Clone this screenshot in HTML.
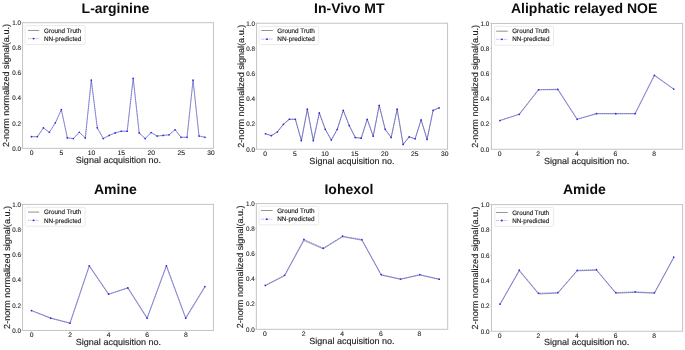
<!DOCTYPE html>
<html><head><meta charset="utf-8"><title>charts</title>
<style>
html,body{margin:0;padding:0;background:#fff;}
body{width:685px;height:350px;overflow:hidden;font-family:"Liberation Sans",sans-serif;}
svg{display:block;filter:blur(0.3px);text-rendering:geometricPrecision;}
</style></head>
<body>
<svg width="685" height="350" viewBox="0 0 685 350">
<rect width="685" height="350" fill="#fff"/>
<defs><clipPath id="c1"><rect x="0" y="0" width="214.7" height="175"/></clipPath></defs>
<g clip-path="url(#c1)">
<text x="115.45" y="12.7" text-anchor="middle" font-family="Liberation Sans, sans-serif" font-weight="bold" font-size="14" fill="#0c0c0c">L-arginine</text>
<rect x="22.55" y="22.70" width="190.95" height="125.65" fill="none" stroke="#c4c4c4" stroke-width="1"/>
<line x1="20.95" x2="22.55" y1="148.35" y2="148.35" stroke="#c4c4c4" stroke-width="0.6"/>
<text transform="translate(20.95,150.65) scale(0.9480,1)" text-anchor="end" font-family="Liberation Sans, sans-serif" font-size="6.6" fill="#1e1e1e" stroke="#1e1e1e" stroke-width="0.12">0.0</text>
<line x1="20.95" x2="22.55" y1="123.22" y2="123.22" stroke="#c4c4c4" stroke-width="0.6"/>
<text transform="translate(20.95,125.52) scale(0.9480,1)" text-anchor="end" font-family="Liberation Sans, sans-serif" font-size="6.6" fill="#1e1e1e" stroke="#1e1e1e" stroke-width="0.12">0.2</text>
<line x1="20.95" x2="22.55" y1="98.09" y2="98.09" stroke="#c4c4c4" stroke-width="0.6"/>
<text transform="translate(20.95,100.39) scale(0.9480,1)" text-anchor="end" font-family="Liberation Sans, sans-serif" font-size="6.6" fill="#1e1e1e" stroke="#1e1e1e" stroke-width="0.12">0.4</text>
<line x1="20.95" x2="22.55" y1="72.96" y2="72.96" stroke="#c4c4c4" stroke-width="0.6"/>
<text transform="translate(20.95,75.26) scale(0.9480,1)" text-anchor="end" font-family="Liberation Sans, sans-serif" font-size="6.6" fill="#1e1e1e" stroke="#1e1e1e" stroke-width="0.12">0.6</text>
<line x1="20.95" x2="22.55" y1="47.83" y2="47.83" stroke="#c4c4c4" stroke-width="0.6"/>
<text transform="translate(20.95,50.13) scale(0.9480,1)" text-anchor="end" font-family="Liberation Sans, sans-serif" font-size="6.6" fill="#1e1e1e" stroke="#1e1e1e" stroke-width="0.12">0.8</text>
<line x1="20.95" x2="22.55" y1="22.70" y2="22.70" stroke="#c4c4c4" stroke-width="0.6"/>
<text transform="translate(20.95,25.00) scale(0.9480,1)" text-anchor="end" font-family="Liberation Sans, sans-serif" font-size="6.6" fill="#1e1e1e" stroke="#1e1e1e" stroke-width="0.12">1.0</text>
<line x1="31.23" x2="31.23" y1="148.35" y2="149.85" stroke="#c4c4c4" stroke-width="0.6"/>
<text transform="translate(31.53,155.05) scale(1.0215,1)" text-anchor="middle" font-family="Liberation Sans, sans-serif" font-size="6.6" fill="#1e1e1e" stroke="#1e1e1e" stroke-width="0.12">0</text>
<line x1="61.16" x2="61.16" y1="148.35" y2="149.85" stroke="#c4c4c4" stroke-width="0.6"/>
<text transform="translate(61.46,155.05) scale(1.0215,1)" text-anchor="middle" font-family="Liberation Sans, sans-serif" font-size="6.6" fill="#1e1e1e" stroke="#1e1e1e" stroke-width="0.12">5</text>
<line x1="91.09" x2="91.09" y1="148.35" y2="149.85" stroke="#c4c4c4" stroke-width="0.6"/>
<text transform="translate(91.39,155.05) scale(1.0215,1)" text-anchor="middle" font-family="Liberation Sans, sans-serif" font-size="6.6" fill="#1e1e1e" stroke="#1e1e1e" stroke-width="0.12">10</text>
<line x1="121.02" x2="121.02" y1="148.35" y2="149.85" stroke="#c4c4c4" stroke-width="0.6"/>
<text transform="translate(121.32,155.05) scale(1.0215,1)" text-anchor="middle" font-family="Liberation Sans, sans-serif" font-size="6.6" fill="#1e1e1e" stroke="#1e1e1e" stroke-width="0.12">15</text>
<line x1="150.95" x2="150.95" y1="148.35" y2="149.85" stroke="#c4c4c4" stroke-width="0.6"/>
<text transform="translate(151.25,155.05) scale(1.0215,1)" text-anchor="middle" font-family="Liberation Sans, sans-serif" font-size="6.6" fill="#1e1e1e" stroke="#1e1e1e" stroke-width="0.12">20</text>
<line x1="180.88" x2="180.88" y1="148.35" y2="149.85" stroke="#c4c4c4" stroke-width="0.6"/>
<text transform="translate(181.18,155.05) scale(1.0215,1)" text-anchor="middle" font-family="Liberation Sans, sans-serif" font-size="6.6" fill="#1e1e1e" stroke="#1e1e1e" stroke-width="0.12">25</text>
<line x1="210.81" x2="210.81" y1="148.35" y2="149.85" stroke="#c4c4c4" stroke-width="0.6"/>
<text transform="translate(211.11,155.05) scale(1.0215,1)" text-anchor="middle" font-family="Liberation Sans, sans-serif" font-size="6.6" fill="#1e1e1e" stroke="#1e1e1e" stroke-width="0.12">30</text>
<text transform="translate(118.43,162.85) scale(1.0244,1)" text-anchor="middle" font-family="Liberation Sans, sans-serif" font-size="8.8" fill="#1e1e1e" stroke="#1e1e1e" stroke-width="0.15">Signal acquisition no.</text>
<text transform="translate(9.35,85.52) rotate(-90) scale(1.0306,1)" text-anchor="middle" font-family="Liberation Sans, sans-serif" font-size="8.8" fill="#1e1e1e" stroke="#1e1e1e" stroke-width="0.15">2-norm normalized signal(a.u.)</text>
<polyline points="31.43,136.66 37.42,136.66 43.40,127.87 49.39,132.27 55.37,122.84 61.36,109.65 67.34,137.92 73.33,138.55 79.32,132.27 85.30,137.92 91.29,80.12 97.27,127.87 103.26,138.55 109.25,135.41 115.23,132.89 121.22,131.26 127.20,131.26 133.19,78.24 139.18,132.89 145.16,138.55 151.15,132.52 157.13,136.03 163.12,135.41 169.11,134.78 175.09,129.75 181.08,137.29 187.06,137.29 193.05,80.12 199.03,136.03 205.02,137.29" fill="none" stroke="#3c3c48" stroke-width="0.65" stroke-linejoin="round" opacity="0.5"/>
<polyline points="31.43,136.66 37.42,136.66 43.40,127.87 49.39,132.27 55.37,122.84 61.36,109.65 67.34,137.92 73.33,138.55 79.32,132.27 85.30,137.92 91.29,80.12 97.27,127.87 103.26,138.55 109.25,135.41 115.23,132.89 121.22,131.26 127.20,131.26 133.19,78.24 139.18,132.89 145.16,138.55 151.15,132.52 157.13,136.03 163.12,135.41 169.11,134.78 175.09,129.75 181.08,137.29 187.06,137.29 193.05,80.12 199.03,136.03 205.02,137.29" fill="none" stroke="#4a4af0" stroke-width="0.66" stroke-linejoin="round" stroke-dasharray="1.5 0.45" opacity="0.92"/>
<path d="M31.43,136.66h0M37.42,136.66h0M43.40,127.87h0M49.39,132.27h0M55.37,122.84h0M61.36,109.65h0M67.34,137.92h0M73.33,138.55h0M79.32,132.27h0M85.30,137.92h0M91.29,80.12h0M97.27,127.87h0M103.26,138.55h0M109.25,135.41h0M115.23,132.89h0M121.22,131.26h0M127.20,131.26h0M133.19,78.24h0M139.18,132.89h0M145.16,138.55h0M151.15,132.52h0M157.13,136.03h0M163.12,135.41h0M169.11,134.78h0M175.09,129.75h0M181.08,137.29h0M187.06,137.29h0M193.05,80.12h0M199.03,136.03h0M205.02,137.29h0" stroke="#2a2aea" stroke-width="1.7" stroke-linecap="round" fill="none"/>
<rect x="25.10" y="25.60" width="60" height="18.9" rx="1.2" fill="#fff" stroke="#e2e2e2" stroke-width="0.7"/>
<line x1="28.00" x2="39.20" y1="30.45" y2="30.45" stroke="#666" stroke-width="0.7"/>
<line x1="28.00" x2="39.20" y1="38.60" y2="38.60" stroke="#7a7aff" stroke-width="0.6" stroke-dasharray="1.2 0.7"/>
<circle cx="33.60" cy="38.60" r="0.9" fill="#2222e6"/>
<text transform="translate(44.00,32.50) scale(0.9713,1)" text-anchor="start" font-family="Liberation Sans, sans-serif" font-size="6.5" fill="#1e1e1e" stroke="#1e1e1e" stroke-width="0.15">Ground Truth</text>
<text transform="translate(44.00,40.70) scale(0.9713,1)" text-anchor="start" font-family="Liberation Sans, sans-serif" font-size="6.5" fill="#1e1e1e" stroke="#1e1e1e" stroke-width="0.15">NN-predicted</text>
</g>
<g>
<text x="349.3" y="12.8" text-anchor="middle" font-family="Liberation Sans, sans-serif" font-weight="bold" font-size="14" fill="#0c0c0c">In-Vivo MT</text>
<rect x="256.55" y="23.25" width="191.00" height="126.00" fill="none" stroke="#c4c4c4" stroke-width="1"/>
<line x1="254.95" x2="256.55" y1="149.25" y2="149.25" stroke="#c4c4c4" stroke-width="0.6"/>
<text transform="translate(254.95,151.55) scale(0.9480,1)" text-anchor="end" font-family="Liberation Sans, sans-serif" font-size="6.6" fill="#1e1e1e" stroke="#1e1e1e" stroke-width="0.12">0.0</text>
<line x1="254.95" x2="256.55" y1="124.05" y2="124.05" stroke="#c4c4c4" stroke-width="0.6"/>
<text transform="translate(254.95,126.35) scale(0.9480,1)" text-anchor="end" font-family="Liberation Sans, sans-serif" font-size="6.6" fill="#1e1e1e" stroke="#1e1e1e" stroke-width="0.12">0.2</text>
<line x1="254.95" x2="256.55" y1="98.85" y2="98.85" stroke="#c4c4c4" stroke-width="0.6"/>
<text transform="translate(254.95,101.15) scale(0.9480,1)" text-anchor="end" font-family="Liberation Sans, sans-serif" font-size="6.6" fill="#1e1e1e" stroke="#1e1e1e" stroke-width="0.12">0.4</text>
<line x1="254.95" x2="256.55" y1="73.65" y2="73.65" stroke="#c4c4c4" stroke-width="0.6"/>
<text transform="translate(254.95,75.95) scale(0.9480,1)" text-anchor="end" font-family="Liberation Sans, sans-serif" font-size="6.6" fill="#1e1e1e" stroke="#1e1e1e" stroke-width="0.12">0.6</text>
<line x1="254.95" x2="256.55" y1="48.45" y2="48.45" stroke="#c4c4c4" stroke-width="0.6"/>
<text transform="translate(254.95,50.75) scale(0.9480,1)" text-anchor="end" font-family="Liberation Sans, sans-serif" font-size="6.6" fill="#1e1e1e" stroke="#1e1e1e" stroke-width="0.12">0.8</text>
<line x1="254.95" x2="256.55" y1="23.25" y2="23.25" stroke="#c4c4c4" stroke-width="0.6"/>
<text transform="translate(254.95,25.55) scale(0.9480,1)" text-anchor="end" font-family="Liberation Sans, sans-serif" font-size="6.6" fill="#1e1e1e" stroke="#1e1e1e" stroke-width="0.12">1.0</text>
<line x1="265.23" x2="265.23" y1="149.25" y2="150.75" stroke="#c4c4c4" stroke-width="0.6"/>
<text transform="translate(265.03,155.95) scale(1.0215,1)" text-anchor="middle" font-family="Liberation Sans, sans-serif" font-size="6.6" fill="#1e1e1e" stroke="#1e1e1e" stroke-width="0.12">0</text>
<line x1="295.17" x2="295.17" y1="149.25" y2="150.75" stroke="#c4c4c4" stroke-width="0.6"/>
<text transform="translate(294.97,155.95) scale(1.0215,1)" text-anchor="middle" font-family="Liberation Sans, sans-serif" font-size="6.6" fill="#1e1e1e" stroke="#1e1e1e" stroke-width="0.12">5</text>
<line x1="325.11" x2="325.11" y1="149.25" y2="150.75" stroke="#c4c4c4" stroke-width="0.6"/>
<text transform="translate(324.91,155.95) scale(1.0215,1)" text-anchor="middle" font-family="Liberation Sans, sans-serif" font-size="6.6" fill="#1e1e1e" stroke="#1e1e1e" stroke-width="0.12">10</text>
<line x1="355.04" x2="355.04" y1="149.25" y2="150.75" stroke="#c4c4c4" stroke-width="0.6"/>
<text transform="translate(354.84,155.95) scale(1.0215,1)" text-anchor="middle" font-family="Liberation Sans, sans-serif" font-size="6.6" fill="#1e1e1e" stroke="#1e1e1e" stroke-width="0.12">15</text>
<line x1="384.98" x2="384.98" y1="149.25" y2="150.75" stroke="#c4c4c4" stroke-width="0.6"/>
<text transform="translate(384.78,155.95) scale(1.0215,1)" text-anchor="middle" font-family="Liberation Sans, sans-serif" font-size="6.6" fill="#1e1e1e" stroke="#1e1e1e" stroke-width="0.12">20</text>
<line x1="414.92" x2="414.92" y1="149.25" y2="150.75" stroke="#c4c4c4" stroke-width="0.6"/>
<text transform="translate(414.72,155.95) scale(1.0215,1)" text-anchor="middle" font-family="Liberation Sans, sans-serif" font-size="6.6" fill="#1e1e1e" stroke="#1e1e1e" stroke-width="0.12">25</text>
<line x1="444.86" x2="444.86" y1="149.25" y2="150.75" stroke="#c4c4c4" stroke-width="0.6"/>
<text transform="translate(444.66,155.95) scale(1.0215,1)" text-anchor="middle" font-family="Liberation Sans, sans-serif" font-size="6.6" fill="#1e1e1e" stroke="#1e1e1e" stroke-width="0.12">30</text>
<text transform="translate(351.95,163.75) scale(1.0244,1)" text-anchor="middle" font-family="Liberation Sans, sans-serif" font-size="8.8" fill="#1e1e1e" stroke="#1e1e1e" stroke-width="0.15">Signal acquisition no.</text>
<text transform="translate(244.05,86.25) rotate(-90) scale(1.0306,1)" text-anchor="middle" font-family="Liberation Sans, sans-serif" font-size="8.8" fill="#1e1e1e" stroke="#1e1e1e" stroke-width="0.15">2-norm normalized signal(a.u.)</text>
<polyline points="265.43,133.75 271.42,135.64 277.41,131.86 283.39,124.30 289.38,119.26 295.37,119.26 301.36,140.68 307.34,109.18 313.33,140.68 319.32,112.96 325.31,129.34 331.29,140.05 337.28,129.34 343.27,110.44 349.26,125.56 355.24,137.53 361.23,138.16 367.22,119.26 373.21,136.27 379.19,105.40 385.18,129.34 391.17,137.53 397.16,109.18 403.14,144.46 409.13,136.90 415.12,138.79 421.11,119.89 427.09,139.42 433.08,110.44 439.07,107.92" fill="none" stroke="#3c3c48" stroke-width="0.65" stroke-linejoin="round" opacity="0.75"/>
<polyline points="265.43,133.75 271.42,135.64 277.41,131.86 283.39,124.30 289.38,119.26 295.37,119.26 301.36,140.68 307.34,109.18 313.33,140.68 319.32,112.96 325.31,129.34 331.29,140.05 337.28,129.34 343.27,110.44 349.26,125.56 355.24,137.53 361.23,138.16 367.22,119.26 373.21,136.27 379.19,105.40 385.18,129.34 391.17,137.53 397.16,109.18 403.14,144.46 409.13,136.90 415.12,138.79 421.11,119.89 427.09,139.42 433.08,110.44 439.07,107.92" fill="none" stroke="#4a4af0" stroke-width="0.66" stroke-linejoin="round" stroke-dasharray="1.5 0.45" opacity="0.92"/>
<path d="M265.43,133.75h0M271.42,135.64h0M277.41,131.86h0M283.39,124.30h0M289.38,119.26h0M295.37,119.26h0M301.36,140.68h0M307.34,109.18h0M313.33,140.68h0M319.32,112.96h0M325.31,129.34h0M331.29,140.05h0M337.28,129.34h0M343.27,110.44h0M349.26,125.56h0M355.24,137.53h0M361.23,138.16h0M367.22,119.26h0M373.21,136.27h0M379.19,105.40h0M385.18,129.34h0M391.17,137.53h0M397.16,109.18h0M403.14,144.46h0M409.13,136.90h0M415.12,138.79h0M421.11,119.89h0M427.09,139.42h0M433.08,110.44h0M439.07,107.92h0" stroke="#2a2aea" stroke-width="1.7" stroke-linecap="round" fill="none"/>
<rect x="259.15" y="26.45" width="59.5" height="18.1" rx="1.2" fill="#fff" stroke="#e2e2e2" stroke-width="0.7"/>
<line x1="261.15" x2="272.85" y1="30.50" y2="30.50" stroke="#666" stroke-width="0.7"/>
<line x1="261.15" x2="272.85" y1="39.15" y2="39.15" stroke="#7a7aff" stroke-width="0.6" stroke-dasharray="1.2 0.7"/>
<circle cx="267.00" cy="39.15" r="0.9" fill="#2222e6"/>
<text transform="translate(277.35,32.85) scale(0.9791,1)" text-anchor="start" font-family="Liberation Sans, sans-serif" font-size="6.5" fill="#1e1e1e" stroke="#1e1e1e" stroke-width="0.15">Ground Truth</text>
<text transform="translate(277.35,41.25) scale(0.9791,1)" text-anchor="start" font-family="Liberation Sans, sans-serif" font-size="6.5" fill="#1e1e1e" stroke="#1e1e1e" stroke-width="0.15">NN-predicted</text>
</g>
<g>
<text x="584.1" y="12.7" text-anchor="middle" font-family="Liberation Sans, sans-serif" font-weight="bold" font-size="14" fill="#0c0c0c">Aliphatic relayed NOE</text>
<rect x="491.40" y="23.45" width="191.20" height="125.80" fill="none" stroke="#c4c4c4" stroke-width="1"/>
<line x1="489.80" x2="491.40" y1="149.25" y2="149.25" stroke="#c4c4c4" stroke-width="0.6"/>
<text transform="translate(489.20,151.55) scale(0.9480,1)" text-anchor="end" font-family="Liberation Sans, sans-serif" font-size="6.6" fill="#1e1e1e" stroke="#1e1e1e" stroke-width="0.12">0.0</text>
<line x1="489.80" x2="491.40" y1="124.09" y2="124.09" stroke="#c4c4c4" stroke-width="0.6"/>
<text transform="translate(489.20,126.39) scale(0.9480,1)" text-anchor="end" font-family="Liberation Sans, sans-serif" font-size="6.6" fill="#1e1e1e" stroke="#1e1e1e" stroke-width="0.12">0.2</text>
<line x1="489.80" x2="491.40" y1="98.93" y2="98.93" stroke="#c4c4c4" stroke-width="0.6"/>
<text transform="translate(489.20,101.23) scale(0.9480,1)" text-anchor="end" font-family="Liberation Sans, sans-serif" font-size="6.6" fill="#1e1e1e" stroke="#1e1e1e" stroke-width="0.12">0.4</text>
<line x1="489.80" x2="491.40" y1="73.77" y2="73.77" stroke="#c4c4c4" stroke-width="0.6"/>
<text transform="translate(489.20,76.07) scale(0.9480,1)" text-anchor="end" font-family="Liberation Sans, sans-serif" font-size="6.6" fill="#1e1e1e" stroke="#1e1e1e" stroke-width="0.12">0.6</text>
<line x1="489.80" x2="491.40" y1="48.61" y2="48.61" stroke="#c4c4c4" stroke-width="0.6"/>
<text transform="translate(489.20,50.91) scale(0.9480,1)" text-anchor="end" font-family="Liberation Sans, sans-serif" font-size="6.6" fill="#1e1e1e" stroke="#1e1e1e" stroke-width="0.12">0.8</text>
<line x1="489.80" x2="491.40" y1="23.45" y2="23.45" stroke="#c4c4c4" stroke-width="0.6"/>
<text transform="translate(489.20,25.75) scale(0.9480,1)" text-anchor="end" font-family="Liberation Sans, sans-serif" font-size="6.6" fill="#1e1e1e" stroke="#1e1e1e" stroke-width="0.12">1.0</text>
<line x1="500.09" x2="500.09" y1="149.25" y2="150.75" stroke="#c4c4c4" stroke-width="0.6"/>
<text transform="translate(499.59,155.95) scale(1.0215,1)" text-anchor="middle" font-family="Liberation Sans, sans-serif" font-size="6.6" fill="#1e1e1e" stroke="#1e1e1e" stroke-width="0.12">0</text>
<line x1="538.72" x2="538.72" y1="149.25" y2="150.75" stroke="#c4c4c4" stroke-width="0.6"/>
<text transform="translate(538.22,155.95) scale(1.0215,1)" text-anchor="middle" font-family="Liberation Sans, sans-serif" font-size="6.6" fill="#1e1e1e" stroke="#1e1e1e" stroke-width="0.12">2</text>
<line x1="577.34" x2="577.34" y1="149.25" y2="150.75" stroke="#c4c4c4" stroke-width="0.6"/>
<text transform="translate(576.84,155.95) scale(1.0215,1)" text-anchor="middle" font-family="Liberation Sans, sans-serif" font-size="6.6" fill="#1e1e1e" stroke="#1e1e1e" stroke-width="0.12">4</text>
<line x1="615.97" x2="615.97" y1="149.25" y2="150.75" stroke="#c4c4c4" stroke-width="0.6"/>
<text transform="translate(615.47,155.95) scale(1.0215,1)" text-anchor="middle" font-family="Liberation Sans, sans-serif" font-size="6.6" fill="#1e1e1e" stroke="#1e1e1e" stroke-width="0.12">6</text>
<line x1="654.60" x2="654.60" y1="149.25" y2="150.75" stroke="#c4c4c4" stroke-width="0.6"/>
<text transform="translate(654.10,155.95) scale(1.0215,1)" text-anchor="middle" font-family="Liberation Sans, sans-serif" font-size="6.6" fill="#1e1e1e" stroke="#1e1e1e" stroke-width="0.12">8</text>
<text transform="translate(586.60,163.75) scale(1.0244,1)" text-anchor="middle" font-family="Liberation Sans, sans-serif" font-size="8.8" fill="#1e1e1e" stroke="#1e1e1e" stroke-width="0.15">Signal acquisition no.</text>
<text transform="translate(478.20,86.35) rotate(-90) scale(1.0306,1)" text-anchor="middle" font-family="Liberation Sans, sans-serif" font-size="8.8" fill="#1e1e1e" stroke="#1e1e1e" stroke-width="0.15">2-norm normalized signal(a.u.)</text>
<polyline points="499.89,120.57 519.20,114.28 538.52,89.75 557.83,89.37 577.14,119.31 596.46,113.65 615.77,113.65 635.08,113.65 654.40,75.28 673.71,89.12" fill="none" stroke="#70707c" stroke-width="1.15" stroke-linejoin="round" opacity="0.45"/>
<polyline points="499.89,120.57 519.20,114.28 538.52,89.75 557.83,89.37 577.14,119.31 596.46,113.65 615.77,113.65 635.08,113.65 654.40,75.28 673.71,89.12" fill="none" stroke="#4a4af0" stroke-width="0.66" stroke-linejoin="round" stroke-dasharray="1.6 0.4" opacity="0.95"/>
<path d="M499.89,120.57h0M519.20,114.28h0M538.52,89.75h0M557.83,89.37h0M577.14,119.31h0M596.46,113.65h0M615.77,113.65h0M635.08,113.65h0M654.40,75.28h0M673.71,89.12h0" stroke="#2a2aea" stroke-width="1.7" stroke-linecap="round" fill="none"/>
<rect x="494.70" y="26.35" width="58.8" height="18.9" rx="1.2" fill="#fff" stroke="#e2e2e2" stroke-width="0.7"/>
<line x1="496.15" x2="507.75" y1="31.25" y2="31.25" stroke="#b4b4b4" stroke-width="1.5"/>
<line x1="496.15" x2="507.75" y1="39.35" y2="39.35" stroke="#7a7aff" stroke-width="0.6" stroke-dasharray="1.2 0.7"/>
<circle cx="501.95" cy="39.35" r="0.9" fill="#2222e6"/>
<text transform="translate(512.20,33.25) scale(0.9713,1)" text-anchor="start" font-family="Liberation Sans, sans-serif" font-size="6.5" fill="#1e1e1e" stroke="#1e1e1e" stroke-width="0.15">Ground Truth</text>
<text transform="translate(512.20,41.45) scale(0.9713,1)" text-anchor="start" font-family="Liberation Sans, sans-serif" font-size="6.5" fill="#1e1e1e" stroke="#1e1e1e" stroke-width="0.15">NN-predicted</text>
</g>
<g>
<text x="115.4" y="193.9" text-anchor="middle" font-family="Liberation Sans, sans-serif" font-weight="bold" font-size="14" fill="#0c0c0c">Amine</text>
<rect x="22.55" y="204.40" width="190.90" height="126.10" fill="none" stroke="#c4c4c4" stroke-width="1"/>
<line x1="20.95" x2="22.55" y1="330.50" y2="330.50" stroke="#c4c4c4" stroke-width="0.6"/>
<text transform="translate(20.95,332.80) scale(0.9480,1)" text-anchor="end" font-family="Liberation Sans, sans-serif" font-size="6.6" fill="#1e1e1e" stroke="#1e1e1e" stroke-width="0.12">0.0</text>
<line x1="20.95" x2="22.55" y1="305.28" y2="305.28" stroke="#c4c4c4" stroke-width="0.6"/>
<text transform="translate(20.95,307.58) scale(0.9480,1)" text-anchor="end" font-family="Liberation Sans, sans-serif" font-size="6.6" fill="#1e1e1e" stroke="#1e1e1e" stroke-width="0.12">0.2</text>
<line x1="20.95" x2="22.55" y1="280.06" y2="280.06" stroke="#c4c4c4" stroke-width="0.6"/>
<text transform="translate(20.95,282.36) scale(0.9480,1)" text-anchor="end" font-family="Liberation Sans, sans-serif" font-size="6.6" fill="#1e1e1e" stroke="#1e1e1e" stroke-width="0.12">0.4</text>
<line x1="20.95" x2="22.55" y1="254.84" y2="254.84" stroke="#c4c4c4" stroke-width="0.6"/>
<text transform="translate(20.95,257.14) scale(0.9480,1)" text-anchor="end" font-family="Liberation Sans, sans-serif" font-size="6.6" fill="#1e1e1e" stroke="#1e1e1e" stroke-width="0.12">0.6</text>
<line x1="20.95" x2="22.55" y1="229.62" y2="229.62" stroke="#c4c4c4" stroke-width="0.6"/>
<text transform="translate(20.95,231.92) scale(0.9480,1)" text-anchor="end" font-family="Liberation Sans, sans-serif" font-size="6.6" fill="#1e1e1e" stroke="#1e1e1e" stroke-width="0.12">0.8</text>
<line x1="20.95" x2="22.55" y1="204.40" y2="204.40" stroke="#c4c4c4" stroke-width="0.6"/>
<text transform="translate(20.95,206.70) scale(0.9480,1)" text-anchor="end" font-family="Liberation Sans, sans-serif" font-size="6.6" fill="#1e1e1e" stroke="#1e1e1e" stroke-width="0.12">1.0</text>
<line x1="31.23" x2="31.23" y1="330.50" y2="332.00" stroke="#c4c4c4" stroke-width="0.6"/>
<text transform="translate(31.53,337.20) scale(1.0215,1)" text-anchor="middle" font-family="Liberation Sans, sans-serif" font-size="6.6" fill="#1e1e1e" stroke="#1e1e1e" stroke-width="0.12">0</text>
<line x1="69.79" x2="69.79" y1="330.50" y2="332.00" stroke="#c4c4c4" stroke-width="0.6"/>
<text transform="translate(70.09,337.20) scale(1.0215,1)" text-anchor="middle" font-family="Liberation Sans, sans-serif" font-size="6.6" fill="#1e1e1e" stroke="#1e1e1e" stroke-width="0.12">2</text>
<line x1="108.36" x2="108.36" y1="330.50" y2="332.00" stroke="#c4c4c4" stroke-width="0.6"/>
<text transform="translate(108.66,337.20) scale(1.0215,1)" text-anchor="middle" font-family="Liberation Sans, sans-serif" font-size="6.6" fill="#1e1e1e" stroke="#1e1e1e" stroke-width="0.12">4</text>
<line x1="146.92" x2="146.92" y1="330.50" y2="332.00" stroke="#c4c4c4" stroke-width="0.6"/>
<text transform="translate(147.22,337.20) scale(1.0215,1)" text-anchor="middle" font-family="Liberation Sans, sans-serif" font-size="6.6" fill="#1e1e1e" stroke="#1e1e1e" stroke-width="0.12">6</text>
<line x1="185.49" x2="185.49" y1="330.50" y2="332.00" stroke="#c4c4c4" stroke-width="0.6"/>
<text transform="translate(185.79,337.20) scale(1.0215,1)" text-anchor="middle" font-family="Liberation Sans, sans-serif" font-size="6.6" fill="#1e1e1e" stroke="#1e1e1e" stroke-width="0.12">8</text>
<text transform="translate(118.40,345.00) scale(1.0244,1)" text-anchor="middle" font-family="Liberation Sans, sans-serif" font-size="8.8" fill="#1e1e1e" stroke="#1e1e1e" stroke-width="0.15">Signal acquisition no.</text>
<text transform="translate(9.95,267.45) rotate(-90) scale(1.0306,1)" text-anchor="middle" font-family="Liberation Sans, sans-serif" font-size="8.8" fill="#1e1e1e" stroke="#1e1e1e" stroke-width="0.15">2-norm normalized signal(a.u.)</text>
<polyline points="31.43,310.57 50.71,318.14 69.99,323.18 89.28,265.81 108.56,294.18 127.84,287.88 147.12,318.14 166.41,265.81 185.69,318.14 204.97,286.62" fill="none" stroke="#70707c" stroke-width="1.15" stroke-linejoin="round" opacity="0.45"/>
<polyline points="31.43,310.57 50.71,318.14 69.99,323.18 89.28,265.81 108.56,294.18 127.84,287.88 147.12,318.14 166.41,265.81 185.69,318.14 204.97,286.62" fill="none" stroke="#4a4af0" stroke-width="0.66" stroke-linejoin="round" stroke-dasharray="1.6 0.4" opacity="0.95"/>
<path d="M31.43,310.57h0M50.71,318.14h0M69.99,323.18h0M89.28,265.81h0M108.56,294.18h0M127.84,287.88h0M147.12,318.14h0M166.41,265.81h0M185.69,318.14h0M204.97,286.62h0" stroke="#2a2aea" stroke-width="1.7" stroke-linecap="round" fill="none"/>
<rect x="25.10" y="207.30" width="60" height="18.9" rx="1.2" fill="#fff" stroke="#e2e2e2" stroke-width="0.7"/>
<line x1="28.00" x2="39.20" y1="212.10" y2="212.10" stroke="#b4b4b4" stroke-width="1.5"/>
<line x1="28.00" x2="39.20" y1="220.30" y2="220.30" stroke="#7a7aff" stroke-width="0.6" stroke-dasharray="1.2 0.7"/>
<circle cx="33.60" cy="220.30" r="0.9" fill="#2222e6"/>
<text transform="translate(44.00,214.45) scale(0.9713,1)" text-anchor="start" font-family="Liberation Sans, sans-serif" font-size="6.5" fill="#1e1e1e" stroke="#1e1e1e" stroke-width="0.15">Ground Truth</text>
<text transform="translate(44.00,222.65) scale(0.9713,1)" text-anchor="start" font-family="Liberation Sans, sans-serif" font-size="6.5" fill="#1e1e1e" stroke="#1e1e1e" stroke-width="0.15">NN-predicted</text>
</g>
<g>
<text x="349.0" y="193.9" text-anchor="middle" font-family="Liberation Sans, sans-serif" font-weight="bold" font-size="14" fill="#0c0c0c">Iohexol</text>
<rect x="256.35" y="203.60" width="191.35" height="125.70" fill="none" stroke="#c4c4c4" stroke-width="1"/>
<line x1="254.75" x2="256.35" y1="329.30" y2="329.30" stroke="#c4c4c4" stroke-width="0.6"/>
<text transform="translate(254.75,331.60) scale(0.9480,1)" text-anchor="end" font-family="Liberation Sans, sans-serif" font-size="6.6" fill="#1e1e1e" stroke="#1e1e1e" stroke-width="0.12">0.0</text>
<line x1="254.75" x2="256.35" y1="304.16" y2="304.16" stroke="#c4c4c4" stroke-width="0.6"/>
<text transform="translate(254.75,306.46) scale(0.9480,1)" text-anchor="end" font-family="Liberation Sans, sans-serif" font-size="6.6" fill="#1e1e1e" stroke="#1e1e1e" stroke-width="0.12">0.2</text>
<line x1="254.75" x2="256.35" y1="279.02" y2="279.02" stroke="#c4c4c4" stroke-width="0.6"/>
<text transform="translate(254.75,281.32) scale(0.9480,1)" text-anchor="end" font-family="Liberation Sans, sans-serif" font-size="6.6" fill="#1e1e1e" stroke="#1e1e1e" stroke-width="0.12">0.4</text>
<line x1="254.75" x2="256.35" y1="253.88" y2="253.88" stroke="#c4c4c4" stroke-width="0.6"/>
<text transform="translate(254.75,256.18) scale(0.9480,1)" text-anchor="end" font-family="Liberation Sans, sans-serif" font-size="6.6" fill="#1e1e1e" stroke="#1e1e1e" stroke-width="0.12">0.6</text>
<line x1="254.75" x2="256.35" y1="228.74" y2="228.74" stroke="#c4c4c4" stroke-width="0.6"/>
<text transform="translate(254.75,231.04) scale(0.9480,1)" text-anchor="end" font-family="Liberation Sans, sans-serif" font-size="6.6" fill="#1e1e1e" stroke="#1e1e1e" stroke-width="0.12">0.8</text>
<line x1="254.75" x2="256.35" y1="203.60" y2="203.60" stroke="#c4c4c4" stroke-width="0.6"/>
<text transform="translate(254.75,205.90) scale(0.9480,1)" text-anchor="end" font-family="Liberation Sans, sans-serif" font-size="6.6" fill="#1e1e1e" stroke="#1e1e1e" stroke-width="0.12">1.0</text>
<line x1="265.05" x2="265.05" y1="329.30" y2="330.80" stroke="#c4c4c4" stroke-width="0.6"/>
<text transform="translate(264.85,336.00) scale(1.0215,1)" text-anchor="middle" font-family="Liberation Sans, sans-serif" font-size="6.6" fill="#1e1e1e" stroke="#1e1e1e" stroke-width="0.12">0</text>
<line x1="303.70" x2="303.70" y1="329.30" y2="330.80" stroke="#c4c4c4" stroke-width="0.6"/>
<text transform="translate(303.50,336.00) scale(1.0215,1)" text-anchor="middle" font-family="Liberation Sans, sans-serif" font-size="6.6" fill="#1e1e1e" stroke="#1e1e1e" stroke-width="0.12">2</text>
<line x1="342.36" x2="342.36" y1="329.30" y2="330.80" stroke="#c4c4c4" stroke-width="0.6"/>
<text transform="translate(342.16,336.00) scale(1.0215,1)" text-anchor="middle" font-family="Liberation Sans, sans-serif" font-size="6.6" fill="#1e1e1e" stroke="#1e1e1e" stroke-width="0.12">4</text>
<line x1="381.02" x2="381.02" y1="329.30" y2="330.80" stroke="#c4c4c4" stroke-width="0.6"/>
<text transform="translate(380.82,336.00) scale(1.0215,1)" text-anchor="middle" font-family="Liberation Sans, sans-serif" font-size="6.6" fill="#1e1e1e" stroke="#1e1e1e" stroke-width="0.12">6</text>
<line x1="419.67" x2="419.67" y1="329.30" y2="330.80" stroke="#c4c4c4" stroke-width="0.6"/>
<text transform="translate(419.47,336.00) scale(1.0215,1)" text-anchor="middle" font-family="Liberation Sans, sans-serif" font-size="6.6" fill="#1e1e1e" stroke="#1e1e1e" stroke-width="0.12">8</text>
<text transform="translate(351.92,343.80) scale(1.0244,1)" text-anchor="middle" font-family="Liberation Sans, sans-serif" font-size="8.8" fill="#1e1e1e" stroke="#1e1e1e" stroke-width="0.15">Signal acquisition no.</text>
<text transform="translate(243.35,266.85) rotate(-90) scale(1.0306,1)" text-anchor="middle" font-family="Liberation Sans, sans-serif" font-size="8.8" fill="#1e1e1e" stroke="#1e1e1e" stroke-width="0.15">2-norm normalized signal(a.u.)</text>
<polyline points="265.25,285.68 284.58,275.75 303.90,240.55 323.23,248.85 342.56,236.78 361.89,240.18 381.22,275.12 400.55,279.27 419.87,275.00 439.20,279.40" fill="none" stroke="#3c3c48" stroke-width="0.65" stroke-linejoin="round" opacity="0.75"/>
<polyline points="265.25,285.43 284.58,275.25 303.90,239.42 323.23,248.22 342.56,236.15 361.89,239.55 381.22,274.62 400.55,279.02 419.87,274.62 439.20,279.14" fill="none" stroke="#4a4af0" stroke-width="0.66" stroke-linejoin="round" stroke-dasharray="1.5 0.45" opacity="0.92"/>
<path d="M265.25,285.43h0M284.58,275.25h0M303.90,239.42h0M323.23,248.22h0M342.56,236.15h0M361.89,239.55h0M381.22,274.62h0M400.55,279.02h0M419.87,274.62h0M439.20,279.14h0" stroke="#2a2aea" stroke-width="1.7" stroke-linecap="round" fill="none"/>
<rect x="259.05" y="206.30" width="59.6" height="18.6" rx="1.2" fill="#fff" stroke="#e2e2e2" stroke-width="0.7"/>
<line x1="260.95" x2="272.65" y1="210.50" y2="210.50" stroke="#666" stroke-width="0.7"/>
<line x1="260.95" x2="272.65" y1="219.20" y2="219.20" stroke="#7a7aff" stroke-width="0.6" stroke-dasharray="1.2 0.7"/>
<circle cx="266.80" cy="219.20" r="0.9" fill="#2222e6"/>
<text transform="translate(277.15,213.20) scale(0.9791,1)" text-anchor="start" font-family="Liberation Sans, sans-serif" font-size="6.5" fill="#1e1e1e" stroke="#1e1e1e" stroke-width="0.15">Ground Truth</text>
<text transform="translate(277.15,221.10) scale(0.9791,1)" text-anchor="start" font-family="Liberation Sans, sans-serif" font-size="6.5" fill="#1e1e1e" stroke="#1e1e1e" stroke-width="0.15">NN-predicted</text>
</g>
<g>
<text x="584.4" y="193.9" text-anchor="middle" font-family="Liberation Sans, sans-serif" font-weight="bold" font-size="14" fill="#0c0c0c">Amide</text>
<rect x="491.50" y="204.60" width="191.10" height="126.65" fill="none" stroke="#c4c4c4" stroke-width="1"/>
<line x1="489.90" x2="491.50" y1="331.25" y2="331.25" stroke="#c4c4c4" stroke-width="0.6"/>
<text transform="translate(489.40,333.55) scale(0.9480,1)" text-anchor="end" font-family="Liberation Sans, sans-serif" font-size="6.6" fill="#1e1e1e" stroke="#1e1e1e" stroke-width="0.12">0.0</text>
<line x1="489.90" x2="491.50" y1="305.92" y2="305.92" stroke="#c4c4c4" stroke-width="0.6"/>
<text transform="translate(489.40,308.22) scale(0.9480,1)" text-anchor="end" font-family="Liberation Sans, sans-serif" font-size="6.6" fill="#1e1e1e" stroke="#1e1e1e" stroke-width="0.12">0.2</text>
<line x1="489.90" x2="491.50" y1="280.59" y2="280.59" stroke="#c4c4c4" stroke-width="0.6"/>
<text transform="translate(489.40,282.89) scale(0.9480,1)" text-anchor="end" font-family="Liberation Sans, sans-serif" font-size="6.6" fill="#1e1e1e" stroke="#1e1e1e" stroke-width="0.12">0.4</text>
<line x1="489.90" x2="491.50" y1="255.26" y2="255.26" stroke="#c4c4c4" stroke-width="0.6"/>
<text transform="translate(489.40,257.56) scale(0.9480,1)" text-anchor="end" font-family="Liberation Sans, sans-serif" font-size="6.6" fill="#1e1e1e" stroke="#1e1e1e" stroke-width="0.12">0.6</text>
<line x1="489.90" x2="491.50" y1="229.93" y2="229.93" stroke="#c4c4c4" stroke-width="0.6"/>
<text transform="translate(489.40,232.23) scale(0.9480,1)" text-anchor="end" font-family="Liberation Sans, sans-serif" font-size="6.6" fill="#1e1e1e" stroke="#1e1e1e" stroke-width="0.12">0.8</text>
<line x1="489.90" x2="491.50" y1="204.60" y2="204.60" stroke="#c4c4c4" stroke-width="0.6"/>
<text transform="translate(489.40,206.90) scale(0.9480,1)" text-anchor="end" font-family="Liberation Sans, sans-serif" font-size="6.6" fill="#1e1e1e" stroke="#1e1e1e" stroke-width="0.12">1.0</text>
<line x1="500.19" x2="500.19" y1="331.25" y2="332.75" stroke="#c4c4c4" stroke-width="0.6"/>
<text transform="translate(499.69,337.65) scale(1.0215,1)" text-anchor="middle" font-family="Liberation Sans, sans-serif" font-size="6.6" fill="#1e1e1e" stroke="#1e1e1e" stroke-width="0.12">0</text>
<line x1="538.79" x2="538.79" y1="331.25" y2="332.75" stroke="#c4c4c4" stroke-width="0.6"/>
<text transform="translate(538.29,337.65) scale(1.0215,1)" text-anchor="middle" font-family="Liberation Sans, sans-serif" font-size="6.6" fill="#1e1e1e" stroke="#1e1e1e" stroke-width="0.12">2</text>
<line x1="577.40" x2="577.40" y1="331.25" y2="332.75" stroke="#c4c4c4" stroke-width="0.6"/>
<text transform="translate(576.90,337.65) scale(1.0215,1)" text-anchor="middle" font-family="Liberation Sans, sans-serif" font-size="6.6" fill="#1e1e1e" stroke="#1e1e1e" stroke-width="0.12">4</text>
<line x1="616.00" x2="616.00" y1="331.25" y2="332.75" stroke="#c4c4c4" stroke-width="0.6"/>
<text transform="translate(615.50,337.65) scale(1.0215,1)" text-anchor="middle" font-family="Liberation Sans, sans-serif" font-size="6.6" fill="#1e1e1e" stroke="#1e1e1e" stroke-width="0.12">6</text>
<line x1="654.61" x2="654.61" y1="331.25" y2="332.75" stroke="#c4c4c4" stroke-width="0.6"/>
<text transform="translate(654.11,337.65) scale(1.0215,1)" text-anchor="middle" font-family="Liberation Sans, sans-serif" font-size="6.6" fill="#1e1e1e" stroke="#1e1e1e" stroke-width="0.12">8</text>
<text transform="translate(586.65,345.45) scale(1.0244,1)" text-anchor="middle" font-family="Liberation Sans, sans-serif" font-size="8.8" fill="#1e1e1e" stroke="#1e1e1e" stroke-width="0.15">Signal acquisition no.</text>
<text transform="translate(478.30,267.93) rotate(-90) scale(1.0306,1)" text-anchor="middle" font-family="Liberation Sans, sans-serif" font-size="8.8" fill="#1e1e1e" stroke="#1e1e1e" stroke-width="0.15">2-norm normalized signal(a.u.)</text>
<polyline points="499.99,304.40 519.29,270.83 538.59,294.01 557.90,293.13 577.20,270.83 596.50,270.20 615.80,293.25 635.11,292.37 654.41,293.25 673.71,257.92" fill="none" stroke="#3c3c48" stroke-width="0.65" stroke-linejoin="round" opacity="0.75"/>
<polyline points="499.99,304.14 519.29,270.07 538.59,293.25 557.90,292.62 577.20,270.33 596.50,269.69 615.80,292.62 635.11,291.86 654.41,292.75 673.71,257.16" fill="none" stroke="#4a4af0" stroke-width="0.66" stroke-linejoin="round" stroke-dasharray="1.5 0.45" opacity="0.92"/>
<path d="M499.99,304.14h0M519.29,270.07h0M538.59,293.25h0M557.90,292.62h0M577.20,270.33h0M596.50,269.69h0M615.80,292.62h0M635.11,291.86h0M654.41,292.75h0M673.71,257.16h0" stroke="#2a2aea" stroke-width="1.7" stroke-linecap="round" fill="none"/>
<rect x="494.80" y="207.50" width="58.8" height="18.9" rx="1.2" fill="#fff" stroke="#e2e2e2" stroke-width="0.7"/>
<line x1="496.00" x2="507.70" y1="212.50" y2="212.50" stroke="#666" stroke-width="0.7"/>
<line x1="496.00" x2="507.70" y1="220.50" y2="220.50" stroke="#7a7aff" stroke-width="0.6" stroke-dasharray="1.2 0.7"/>
<circle cx="501.85" cy="220.50" r="0.9" fill="#2222e6"/>
<text transform="translate(512.15,214.85) scale(0.9713,1)" text-anchor="start" font-family="Liberation Sans, sans-serif" font-size="6.5" fill="#1e1e1e" stroke="#1e1e1e" stroke-width="0.15">Ground Truth</text>
<text transform="translate(512.15,223.05) scale(0.9713,1)" text-anchor="start" font-family="Liberation Sans, sans-serif" font-size="6.5" fill="#1e1e1e" stroke="#1e1e1e" stroke-width="0.15">NN-predicted</text>
</g>
</svg>
</body></html>
